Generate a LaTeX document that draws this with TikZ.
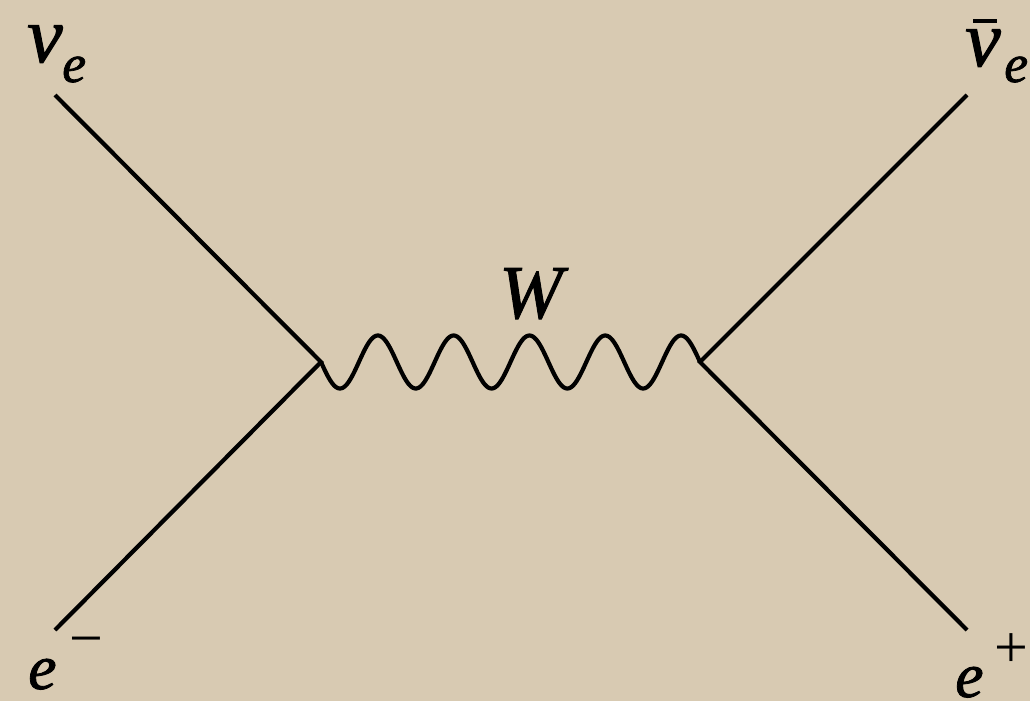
\documentclass[tikz,border=0pt]{standalone}
\usepackage{fontspec}
\setmainfont{Liberation Serif}[ItalicFeatures={FakeBold=1.3}]
\definecolor{paper}{RGB}{216,202,178}
\tikzset{
  line/.style={line width=4.2pt, black},
  boson/.style={line width=4.2pt, black, line join=round},
  barline/.style={line width=3.8pt, black},
  lab/.style={inner sep=0pt, anchor=base west, font=\itshape\fontsize{64}{64}\selectfont},
  sub/.style={inner sep=0pt, anchor=base west, font=\itshape\fontsize{54}{54}\selectfont},
  sup/.style={inner sep=0pt, anchor=base west, font=\fontsize{60}{60}\selectfont}
}
\begin{document}
\begin{tikzpicture}[x=1pt,y=-1pt]
\fill[paper] (0,0) rectangle (1030,701);
\useasboundingbox (0,0) rectangle (1030,701);
\coordinate (v1) at (321,362);
\coordinate (v2) at (700,362);
\coordinate (a) at (55,95);
\coordinate (b) at (55,630);
\coordinate (c) at (967,95);
\coordinate (d) at (967,630);
\draw[line] (a) -- (v1) -- (b);
\draw[line] (c) -- (v2) -- (d);
\begin{scope}[shift={(v1)}]
\draw[boson] plot[domain=0:379, samples=301, smooth] (\x, {26.5*sin(\x/75.8*360)});
\end{scope}
\node[lab, font=\itshape\fontsize{76}{76}\selectfont] (W) at (499,318) {W};
\node[lab, font=\itshape\fontsize{80}{80}\selectfont] (nu) at (27,62) {ν};
\node[sub] (nue) at (62,82) {e};
\node[lab, font=\itshape\fontsize{80}{80}\selectfont] (nub) at (965,66) {ν};
\draw[barline] (973,21) -- (997,21);
\node[sub] (nube) at (1004,82) {e};
\node[lab] (em) at (28,689) {e};
\node[sup] (minus) at (69,658) {−};
\node[lab] (ep) at (955,697) {e};
\node[sup] (plus) at (994,667) {+};
\end{tikzpicture}
\end{document}
